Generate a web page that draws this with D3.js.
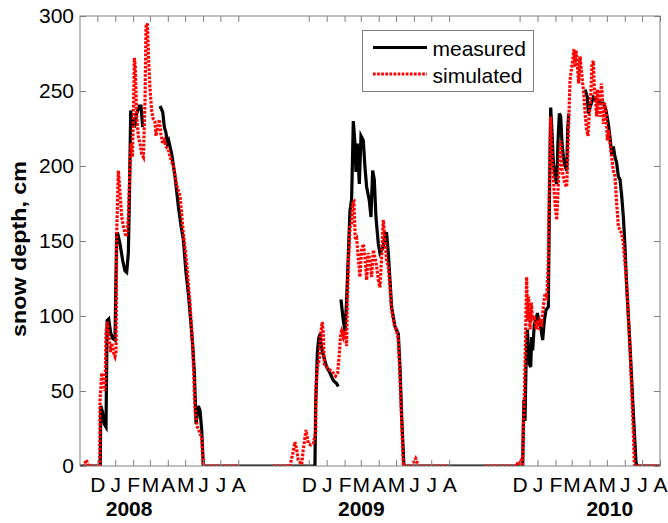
<!DOCTYPE html>
<html>
<head>
<meta charset="utf-8">
<script src="https://cdn.jsdelivr.net/npm/d3@7"></script>
<style>
  html, body { margin: 0; padding: 0; background: #fff; }
  svg { display: block; font-family: "Liberation Sans", Arial, Helvetica, sans-serif; }
</style>
</head>
<body>
<svg id="chart" width="668" height="523"></svg>
<script>
// Snow depth, measured vs simulated, three winters.
// Each series is a list of [days since 1 December of that winter, depth in cm];
// null depth marks a gap in the record.

const seasonStarts = ["2007-12-01", "2008-12-01", "2009-12-01"];
const yearLabels = ["2008", "2009", "2010"];
const yearLabelDates = ["2008-01-25", "2009-03-02", "2010-05-06"];
const monthLetters = ["D", "J", "F", "M", "A", "M", "J", "J", "A"];
const yTicks = [0, 50, 100, 150, 200, 250, 300];
const seriesNames = ["measured", "simulated"];

const measured2008 = [
  [-30, 0], [5, 0], [6, 40], [9, 36], [12, 28], [15, 26], [17, 97], [19.7, 98], [23, 89],
  [26.6, 85], [30.6, 84], [33.5, 155], [35.3, 155], [39.3, 148], [43.9, 137], [47.9, 130],
  [50.8, 129], [53.7, 142], [55.4, 177], [57.8, 237], [60.1, 226], [62.4, 230], [65.3, 228],
  [68.1, 235], [72.8, 240], [75.6, 240], [78.5, 226], [79, null],
  [108.5, 240], [113.2, 236], [116, 226], [118.9, 222], [121.2, 215], [123.5, 217],
  [125.8, 213], [128.7, 208], [134.5, 193], [140.3, 173], [144.9, 160], [148.9, 151],
  [153.5, 129], [157.6, 115], [161.6, 97], [165.1, 80], [168, 62], [170.9, 28], [174.9, 40],
  [177.8, 37], [180.7, 24], [183.5, 0], [244, 0]
];

const measured2009 = [
  [-122, 0], [10.7, 0], [11.9, 40], [14.8, 75], [17.1, 85], [19.4, 88], [22.3, 78], [25.2, 74],
  [30.9, 66], [36.7, 62], [42.5, 57], [48.2, 55], [51.1, 53], [53, null],
  [55.7, 111], [59.8, 97], [62.7, 90], [65.5, 110], [68.4, 140], [71.3, 170], [74.2, 178],
  [77.1, 230], [80, 215], [81.7, 196], [84, 215], [87.5, 188], [90.4, 220], [94.4, 217],
  [97.3, 199], [100.2, 186], [104.8, 177], [107.7, 166], [110.6, 197], [113.4, 191],
  [116.3, 166], [120.4, 148], [123.2, 142], [129, 146], [131.9, 155], [134.8, 155],
  [137.7, 142], [140.6, 124], [143.4, 106], [149.2, 93], [155, 88], [157.9, 66], [160.8, 33],
  [164.8, 0], [243, 0]
];

const measured2010 = [
  [-122, 0], [5.3, 0], [6.5, 28], [7.6, 44], [9.3, 30], [11.1, 68], [13.4, 91], [16.8, 68],
  [19.2, 66], [20.9, 86], [22.6, 77], [25.5, 95], [28.4, 97], [30.7, 102], [34.2, 95],
  [37, 91], [39.9, 84], [42.8, 97], [45.7, 104], [49.7, 106], [51.5, 175], [53.8, 239],
  [56.1, 222], [58.4, 202], [61.3, 193], [64.2, 188], [66.5, 217], [68.8, 235], [71.1, 233],
  [73.4, 215], [75.7, 206], [78.6, 200], [81.5, 197], [83.2, 224], [84.9, 235], [86, null],
  [113.2, 251], [117.2, 246], [119, 235], [121.9, 239], [127.6, 246], [133.4, 244],
  [139.2, 242], [144.9, 242], [149.6, 237], [153.6, 228], [156.5, 219], [159.4, 208],
  [162.2, 213], [165.1, 206], [168, 202], [170.9, 193], [173.8, 191], [176.7, 180],
  [179.6, 166], [182.4, 146], [185.3, 120], [191.1, 80], [196.9, 35], [201.5, 2],
  [203.8, 0], [243, 0]
];

const simulated2008 = [
  [-25, 0], [-22, 0], [-20, 4], [-18, 3], [-16, 1], [-14, 0], [4.3, 0], [4.7, 44], [7.6, 62],
  [10.4, 55], [13.3, 50], [15.1, 89], [17.4, 96], [20.3, 85], [23.1, 76], [24.9, 82],
  [27.8, 76], [30.6, 73], [32.4, 76], [33.5, 155], [36.4, 197], [39.3, 182], [42.2, 166],
  [45.1, 160], [47.9, 155], [50.8, 153], [53.7, 166], [56.6, 200], [58.3, 215], [60.6, 206],
  [62.4, 233], [64.1, 272], [65.8, 266], [68.1, 233], [71, 220], [73.9, 215], [76.8, 208],
  [79.7, 206], [82.6, 244], [84.3, 293], [86.6, 295], [88.9, 270], [91.2, 251], [94.1, 237],
  [97, 231], [99.9, 229], [101.6, 220], [104.5, 226], [107.4, 231], [109.7, 222],
  [113.2, 215], [116, 217], [118.9, 213], [123, 211], [125.8, 206], [131.6, 200],
  [137.4, 187], [143.2, 180], [148.9, 155], [154.7, 135], [160.5, 108], [165.1, 80],
  [169.1, 37], [173.2, 26], [177.8, 22], [180.7, 18], [183.5, 0], [244, 0]
];

const simulated2009 = [
  [-62, 0], [-32.5, 0], [-29.7, 5], [-27.9, 8], [-23.9, 16], [-21, 11], [-18.1, 4],
  [-12.3, 1], [-9.5, 11], [-4.8, 24], [-0.8, 15], [3.2, 14], [7.8, 15], [11.9, 22],
  [12.5, 51], [14.8, 66], [18.2, 71], [20.5, 88], [23.4, 96], [25.2, 88], [26.9, 68],
  [30.9, 66], [36.7, 64], [42.5, 62], [46.5, 60], [50, 62], [52.9, 75], [55.2, 88],
  [56.9, 90], [59.8, 86], [62.7, 90], [65.5, 80], [66.7, 110], [69, 137], [71.3, 159],
  [74.2, 162], [75.9, 175], [78.2, 176], [80.5, 151], [82.9, 152], [85.7, 139], [88.6, 126],
  [91.5, 144], [94.4, 148], [97.3, 139], [100.2, 124], [103, 142], [105.9, 137], [108.8, 126],
  [111.7, 144], [114.6, 139], [117.5, 133], [120.4, 124], [123.2, 119], [126.1, 139],
  [129, 164], [131.9, 151], [134.8, 137], [137.7, 133], [140.6, 119], [143.4, 104],
  [147.5, 95], [152.1, 90], [155, 84], [157.9, 60], [160.8, 31], [163.6, 0], [181, 0],
  [182.1, 3], [185, 5], [187.9, 2], [189, 0], [243, 0]
];

const simulated2010 = [
  [-60, 0], [-5, 0], [-3, 3], [0, 2], [3, 4], [4.5, 0], [5, 0], [6.5, 26], [8.2, 46],
  [10.5, 91], [12.2, 126], [14, 97], [15.7, 113], [18, 91], [20.3, 109], [22.6, 97],
  [25.5, 100], [28.4, 91], [30.7, 97], [33, 91], [35.3, 97], [38.2, 95], [41.1, 106],
  [44, 115], [46.9, 113], [49.7, 135], [51.5, 191], [53.8, 233], [56.1, 206], [58.4, 191],
  [61.3, 175], [64.2, 164], [66.5, 184], [68.8, 202], [71.1, 217], [73.4, 197], [75.7, 193],
  [78.6, 188], [81.5, 186], [83.2, 206], [84.9, 228], [87.2, 257], [89.5, 264], [91.9, 270],
  [94.2, 278], [95.9, 266], [97.6, 277], [99.9, 268], [102.2, 255], [104.6, 273],
  [106.9, 264], [109.2, 255], [111.5, 246], [113.8, 233], [116.1, 224], [118.4, 220],
  [120.7, 235], [123, 246], [125.3, 268], [127.6, 270], [129.4, 251], [131.1, 246],
  [133.4, 233], [135.1, 251], [136.9, 242], [139.2, 233], [141.5, 255], [143.2, 246],
  [144.9, 228], [147.3, 242], [149.6, 235], [151.9, 217], [154.2, 224], [156.5, 215],
  [159.4, 206], [162.2, 197], [165.1, 193], [168, 175], [170.9, 160], [173.8, 157],
  [176.7, 155], [179.6, 148], [185.3, 122], [191.1, 78], [195.7, 35], [198.6, 2],
  [199.8, 0], [243, 0]
];

const measuredSeasons = [measured2008, measured2009, measured2010];
const simulatedSeasons = [simulated2008, simulated2009, simulated2010];

// ---------------------------------------------------------------------------
const parse = d3.utcParse("%Y-%m-%d");
const DAY = 864e5;
const starts = seasonStarts.map(parse);

const margin = { left: 80, top: 16, right: 8, bottom: 57 };
const W = 668, H = 523;
const plotW = W - margin.left - margin.right;   // 580
const plotH = H - margin.top - margin.bottom;   // 450

const x = d3.scaleUtc()
  .domain([parse("2007-11-01"), parse("2010-08-01")])
  .range([margin.left, margin.left + plotW]);
const y = d3.scaleLinear().domain([0, 300]).range([margin.top + plotH, margin.top]);

const svg = d3.select("#chart");
const axisColor = "#808080";
const fontSize = 21;

svg.append("defs").append("clipPath").attr("id", "plot-clip")
  .append("rect")
  .attr("x", margin.left).attr("y", margin.top)
  .attr("width", plotW).attr("height", plotH);

// convert [day offset, depth] pairs of one winter into [date, depth]
const toDated = (pairs, i) =>
  pairs.map(([d, v]) => [new Date(+starts[i] + d * DAY), v]);

const line = d3.line()
  .defined(d => d[1] !== null)
  .x(d => x(d[0]))
  .y(d => y(d[1]));

const lines = svg.append("g").attr("clip-path", "url(#plot-clip)");

lines.selectAll("path.measured")
  .data(measuredSeasons.map(toDated))
  .join("path")
  .attr("class", "measured")
  .attr("d", line)
  .attr("fill", "none")
  .attr("stroke", "#000")
  .attr("stroke-width", 3.2)
  .attr("stroke-linejoin", "miter");

lines.selectAll("path.simulated")
  .data(simulatedSeasons.map(toDated))
  .join("path")
  .attr("class", "simulated")
  .attr("d", line)
  .attr("fill", "none")
  .attr("stroke", "#ff0000")
  .attr("stroke-width", 3.2)
  .attr("stroke-dasharray", "2.7 1.4");

// month ticks: 1 Dec .. 1 Aug of every winter
const monthTicks = starts.flatMap(s => d3.range(9).map(k => d3.utcMonth.offset(s, k)));
const monthLabel = d => monthLetters[(d.getUTCMonth() + 1) % 12];

const styleAxis = g => {
  g.select(".domain").remove();
  g.selectAll(".tick line").attr("stroke", axisColor).attr("stroke-width", 1);
  g.selectAll(".tick text")
    .attr("fill", "#000")
    .attr("font-size", fontSize)
    .attr("font-family", "'Liberation Sans', Arial, sans-serif");
};

svg.append("g")
  .attr("transform", `translate(0,${margin.top + plotH})`)
  .call(d3.axisBottom(x).tickValues(monthTicks).tickFormat(monthLabel)
    .tickSizeInner(-6).tickSizeOuter(0).tickPadding(10.7))
  .call(styleAxis);

svg.append("g")
  .attr("transform", `translate(0,${margin.top})`)
  .call(d3.axisTop(x).tickValues(monthTicks).tickFormat("")
    .tickSizeInner(-6).tickSizeOuter(0))
  .call(styleAxis);

svg.append("g")
  .attr("transform", `translate(${margin.left},0)`)
  .call(d3.axisLeft(y).tickValues(yTicks).tickFormat(d3.format("d"))
    .tickSizeInner(-6).tickSizeOuter(0).tickPadding(6))
  .call(styleAxis);

svg.append("g")
  .attr("transform", `translate(${margin.left + plotW},0)`)
  .call(d3.axisRight(y).tickValues(yTicks).tickFormat("")
    .tickSizeInner(-6).tickSizeOuter(0))
  .call(styleAxis);

// plot frame
svg.append("rect")
  .attr("x", margin.left).attr("y", margin.top)
  .attr("width", plotW).attr("height", plotH)
  .attr("fill", "none").attr("stroke", axisColor).attr("stroke-width", 1);

// winter year captions
svg.append("g").selectAll("text")
  .data(yearLabels)
  .join("text")
  .attr("x", (d, i) => x(parse(yearLabelDates[i])))
  .attr("y", 516)
  .attr("text-anchor", "middle")
  .attr("font-size", fontSize)
  .attr("font-weight", "bold")
  .text(d => d);

// y-axis title
svg.append("text")
  .attr("transform", "translate(26,249) rotate(-90)")
  .attr("text-anchor", "middle")
  .attr("font-size", 20)
  .attr("font-weight", "bold")
  .attr("textLength", 176)
  .attr("lengthAdjust", "spacingAndGlyphs")
  .text("snow depth, cm");

// legend
const legend = svg.append("g");
legend.append("rect")
  .attr("x", 362.5).attr("y", 30.5)
  .attr("width", 171).attr("height", 61)
  .attr("fill", "#fff").attr("stroke", axisColor).attr("stroke-width", 1);

const legendRows = [
  { name: seriesNames[0], color: "#000", dash: null, y: 47.5, base: 56 },
  { name: seriesNames[1], color: "#ff0000", dash: "2.7 1.4", y: 74, base: 83 }
];
legendRows.forEach(r => {
  legend.append("line")
    .attr("x1", 373).attr("x2", 427).attr("y1", r.y).attr("y2", r.y)
    .attr("stroke", r.color).attr("stroke-width", 3.2)
    .attr("stroke-dasharray", r.dash);
  legend.append("text")
    .attr("x", 432.5).attr("y", r.base)
    .attr("font-size", fontSize)
    .text(r.name);
});
</script>
</body>
</html>
